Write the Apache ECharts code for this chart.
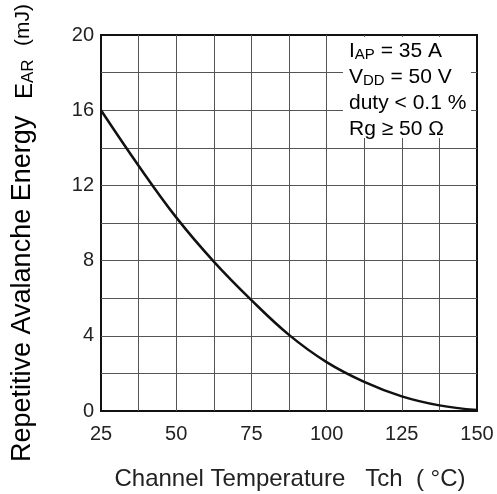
<!DOCTYPE html>
<html>
<head>
<meta charset="utf-8">
<script src="https://cdn.jsdelivr.net/npm/echarts@6/dist/echarts.min.js"></script>
<style>
  html, body { margin: 0; padding: 0; background: #fff; }
  #chart { width: 497px; height: 494px; }
</style>
</head>
<body>
<div id="chart"></div>
<script>
// Channel temperature (°C) and repetitive avalanche energy (mJ)
var temperatures = [25, 37.5, 50, 62.5, 75, 87.5, 100, 112.5, 125, 137.5, 150];
var energies     = [16, 13.05, 10.3, 7.95, 5.9, 4.05, 2.6, 1.55, 0.78, 0.3, 0.05];

var xTickLabels = [25, 50, 75, 100, 125, 150];
var yTickLabels = [0, 4, 8, 12, 16, 20];

var conditions = [
  '{n|I}{s|AP}{n| = 35 A}',
  '{n|V}{s|DD}{n| = 50 V}',
  '{n|duty < 0.1 %}',
  '{n|Rg \u2265 50 \u03A9}'
];

var FONT = '"Liberation Sans", Arial, sans-serif';
var chart = echarts.init(document.getElementById('chart'));

var points = temperatures.map(function (t, i) { return [t, energies[i]]; });

var plotLeft = 101, plotTop = 35, plotRight = 477, plotBottom = 411;

function vText(y, text, rich) {
  return {
    type: 'text', z: 50,
    x: 23, y: y, rotation: Math.PI / 2,
    style: { text: text, align: 'left', verticalAlign: 'middle', rich: rich }
  };
}

var graphics = [
  // white panel behind the test conditions
  {
    type: 'rect', z: 50,
    shape: { x: 343, y: 37, width: 128, height: 101 },
    style: { fill: '#fff' }
  },
  // y axis title, read bottom to top
  vText(462, '{n|Repetitive Avalanche Energy}', {
    n: { fontFamily: FONT, fontSize: 27, color: '#222', lineHeight: 30 }
  }),
  vText(99, '{n|E}{s|AR}', {
    n: { fontFamily: FONT, fontSize: 24, color: '#222', lineHeight: 28, verticalAlign: 'bottom' },
    s: { fontFamily: FONT, fontSize: 17, color: '#222', lineHeight: 22, verticalAlign: 'bottom' }
  }),
  vText(46, '{n|(mJ)}', {
    n: { fontFamily: FONT, fontSize: 21, color: '#222', lineHeight: 28 }
  }),
  // x axis title
  {
    type: 'text', z: 50,
    x: 290, y: 479,
    style: {
      text: 'Channel Temperature   Tch  ( \u00B0C)',
      align: 'center', verticalAlign: 'middle',
      fontFamily: FONT, fontSize: 24, fill: '#222'
    }
  }
];

conditions.forEach(function (line, i) {
  graphics.push({
    type: 'text', z: 51,
    x: 349, y: 50 + i * 26,
    style: {
      text: line,
      align: 'left', verticalAlign: 'middle',
      rich: {
        n: { fontFamily: FONT, fontSize: 21, color: '#222', lineHeight: 24, verticalAlign: 'bottom' },
        s: { fontFamily: FONT, fontSize: 15, color: '#222', lineHeight: 19, verticalAlign: 'bottom' }
      }
    }
  });
});

chart.setOption({
  animation: false,
  backgroundColor: '#fff',
  grid: {
    left: plotLeft, top: plotTop,
    width: plotRight - plotLeft, height: plotBottom - plotTop,
    show: true, borderColor: '#111', borderWidth: 2, backgroundColor: 'transparent'
  },
  xAxis: {
    type: 'value', min: 25, max: 150, interval: 12.5,
    axisLine: { show: false },
    axisTick: { show: false },
    splitLine: { show: true, showMinLine: false, showMaxLine: false, lineStyle: { color: '#555', width: 1 } },
    axisLabel: {
      margin: 13, fontFamily: FONT, fontSize: 20, color: '#222',
      showMinLabel: true, showMaxLabel: true,
      formatter: function (v) { return xTickLabels.indexOf(v) >= 0 ? String(v) : ''; }
    }
  },
  yAxis: {
    type: 'value', min: 0, max: 20, interval: 2,
    axisLine: { show: false },
    axisTick: { show: false },
    splitLine: { show: true, showMinLine: false, showMaxLine: false, lineStyle: { color: '#555', width: 1 } },
    axisLabel: {
      margin: 7, fontFamily: FONT, fontSize: 20, color: '#222',
      formatter: function (v) { return yTickLabels.indexOf(v) >= 0 ? String(v) : ''; }
    }
  },
  series: [{
    type: 'line',
    data: points,
    smooth: 0.4,
    symbol: 'none',
    z: 10,
    lineStyle: { color: '#111', width: 2.5 }
  }],
  graphic: graphics
});
</script>
</body>
</html>
